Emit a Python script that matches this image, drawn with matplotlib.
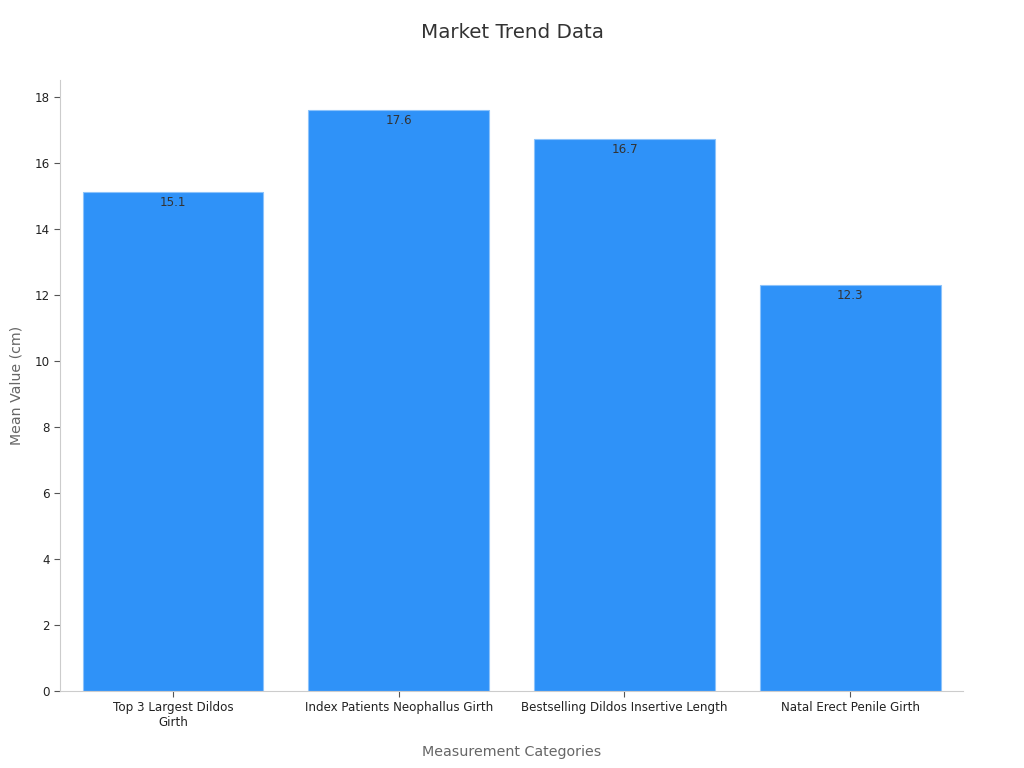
import matplotlib.pyplot as plt

categories = ["Top 3 Largest Dildos\nGirth", "Index Patients Neophallus Girth",
              "Bestselling Dildos Insertive Length", "Natal Erect Penile Girth"]
values = [15.1, 17.6, 16.7, 12.3]

fig = plt.figure(figsize=(10.24, 7.68), dpi=100)
ax = fig.add_axes([0.0586, 0.1003, 0.882, 0.7955])

x = range(len(categories))
ax.bar(x, values, width=0.8, color="#2f92f8", edgecolor="#8cc3fb", linewidth=0.8)
for i, v in zip(x, values):
    ax.text(i, v - 0.12, f"{v}", ha="center", va="top", fontsize=8.6, color="#333333")

ax.set_xlim(-0.5, 3.5)
ax.set_ylim(0, 18.5)
ax.set_yticks(range(0, 19, 2))
ax.set_xticks(list(x))
ax.set_xticklabels(categories, fontsize=8.6, color="#222222")
ax.tick_params(axis="y", labelsize=8.6, labelcolor="#222222", color="#555555", length=4)
ax.tick_params(axis="x", color="#555555", length=4)
for s in ["top", "right"]:
    ax.spines[s].set_visible(False)
for s in ["left", "bottom"]:
    ax.spines[s].set_color("#cccccc")

ax.set_xlabel("Measurement Categories", fontsize=10.3, color="#666666", labelpad=11)
ax.set_ylabel("Mean Value (cm)", fontsize=10.2, color="#666666", labelpad=8)
fig.suptitle("Market Trend Data", fontsize=14.3, color="#333333", y=0.97)

fig.savefig("out.png", dpi=100)
